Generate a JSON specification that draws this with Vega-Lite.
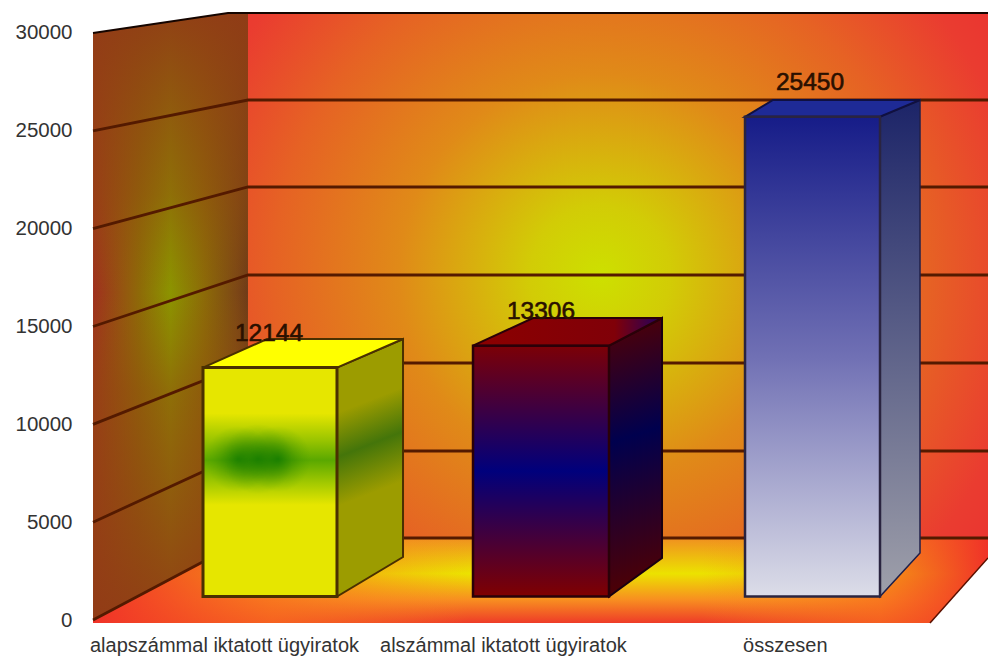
{
"$schema":"https://vega.github.io/schema/vega-lite/v6.json",
"width":988,"height":658,"padding":0,"autosize":{"type":"none"},"background":"white",
"config":{"view":{"stroke":null},"font":"Liberation Sans"},
"datasets":{
"bars":[
{"label":"alapszámmal iktatott ügyiratok","value":12144,"x":0.9963,"x0":0.7528,"x1":1.2472,"base":0},
{"label":"alszámmal iktatott ügyiratok","value":13306,"x":2.0,"x0":1.7491,"x1":2.2509,"base":0},
{"label":"összesen","value":25450,"x":2.9926,"x0":2.7528,"x1":3.2509,"base":0}],
"faces":[
{"bar":1,"face":"top","x":0.7528,"y":12144,"y2":12144},
{"bar":1,"face":"top","x":0.9889,"y":13660,"y2":12144},
{"bar":1,"face":"top","x":1.2472,"y":13660,"y2":12144},
{"bar":1,"face":"top","x":1.4908,"y":13660,"y2":13660},
{"bar":1,"face":"side","x":1.2472,"y":12144,"y2":0},
{"bar":1,"face":"side","x":1.4908,"y":13660,"y2":2095},
{"bar":2,"face":"top","x":1.7491,"y":13306,"y2":13306},
{"bar":2,"face":"top","x":1.9705,"y":14775,"y2":13306},
{"bar":2,"face":"top","x":2.2509,"y":14775,"y2":13306},
{"bar":2,"face":"top","x":2.4465,"y":14775,"y2":14775},
{"bar":2,"face":"side","x":2.2509,"y":13306,"y2":0},
{"bar":2,"face":"side","x":2.4465,"y":14775,"y2":2042},
{"bar":3,"face":"top","x":2.7528,"y":25450,"y2":25450},
{"bar":3,"face":"top","x":2.8561,"y":26340,"y2":25450},
{"bar":3,"face":"top","x":3.2509,"y":26340,"y2":25450},
{"bar":3,"face":"top","x":3.3985,"y":26340,"y2":26340},
{"bar":3,"face":"side","x":3.2509,"y":25450,"y2":0},
{"bar":3,"face":"side","x":3.3985,"y":26340,"y2":2308}],
"wall":[{"x":0.3469,"y":30000,"y2":0},{"x":0.8450,"y":31021,"y2":3650},{"x":0.9188,"y":31021,"y2":4191}],
"floor":[{"x":0.3469,"y":0,"y2":-153},{"x":0.9188,"y":4191,"y2":-153},{"x":3.4354,"y":4191,"y2":-153},{"x":3.6494,"y":4191,"y2":3169}]
},
"encoding":{
"x":{"field":"x","type":"quantitative","scale":{"domain":[0.0037,3.6494],"nice":false,"zero":false},"axis":null},
"y":{"field":"y","type":"quantitative","scale":{"domain":[-1942,31686],"nice":false,"zero":false},"axis":null}
},
"resolve":{"scale":{"y":"independent"}},
"layer":[
{"data":{"values":[{"x":0.9188,"x2":3.6494,"y":31021,"y2":4191}]},
"mark":{"type":"rect","color":{"gradient":"radial","x1":0.476,"y1":0.5,"r1":0,"x2":0.476,"y2":0.5,"r2":0.68,"stops":[{"offset":0,"color":"#cde000"},{"offset":0.14,"color":"#d2cc06"},{"offset":0.4,"color":"#e08a18"},{"offset":0.65,"color":"#e66224"},{"offset":0.85,"color":"#ea3c30"},{"offset":1,"color":"#ea3030"}]}},
"encoding":{
"y":{"field":"y","type":"quantitative","scale":{"domain":[-1942,31686],"nice":false,"zero":false},"axis":{"values":[0,5000,10000,15000,20000,25000,30000],"format":"d","title":null,"domain":false,"ticks":false,"tickSize":0,"grid":false,"labelPadding":-72,"labelAlign":"right","labelFontSize":20.5,"labelColor":"#333333","labelOverlap":false,"labelBound":false,"labelFlush":false}},
"x2":{"field":"x2"},"y2":{"field":"y2"}}},
{"data":{"name":"wall"},
"mark":{"type":"area","color":{"gradient":"linear","x1":0,"y1":0,"x2":1,"y2":0,"stops":[{"offset":0,"color":"#a0301e"},{"offset":0.3,"color":"#8e6a08"},{"offset":0.5,"color":"#8c9400"},{"offset":0.72,"color":"#8c6a08"},{"offset":0.93,"color":"#7c4616"},{"offset":1,"color":"#6e3a18"}]}},
"encoding":{"y2":{"field":"y2"}}},
{"data":{"name":"wall"},
"mark":{"type":"area","color":{"gradient":"linear","x1":0,"y1":0,"x2":0,"y2":1,"stops":[{"offset":0,"color":"rgba(145,60,22,0.95)"},{"offset":0.3,"color":"rgba(145,75,15,0.5)"},{"offset":0.46,"color":"rgba(145,90,10,0)"},{"offset":0.62,"color":"rgba(145,75,15,0.5)"},{"offset":1,"color":"rgba(145,60,22,0.95)"}]}},
"encoding":{"y2":{"field":"y2"}}},
{"data":{"name":"floor"},
"mark":{"type":"area","color":{"gradient":"linear","x1":0,"y1":0,"x2":0,"y2":1,"stops":[{"offset":0,"color":"#f09020"},{"offset":0.42,"color":"#ece200"},{"offset":0.72,"color":"#f89020"},{"offset":1,"color":"#ee3c28"}]}},
"encoding":{"y2":{"field":"y2"}}},
{"data":{"name":"floor"},
"mark":{"type":"area","color":{"gradient":"linear","x1":0,"y1":0,"x2":1,"y2":0,"stops":[{"offset":0,"color":"rgba(240,50,40,1)"},{"offset":0.2,"color":"rgba(248,110,30,0.75)"},{"offset":0.42,"color":"rgba(248,140,30,0)"},{"offset":0.68,"color":"rgba(248,140,30,0)"},{"offset":0.88,"color":"rgba(248,110,30,0.7)"},{"offset":1,"color":"rgba(240,50,40,1)"}]}},
"encoding":{"y2":{"field":"y2"}}},
{"data":{"values":[
{"tick":0,"x":0.3469,"y":0},{"tick":0,"x":0.9188,"y":4191},{"tick":0,"x":3.6494,"y":4191},
{"tick":5000,"x":0.3469,"y":5000},{"tick":5000,"x":0.9188,"y":8637},{"tick":5000,"x":3.6494,"y":8637},
{"tick":10000,"x":0.3469,"y":10000},{"tick":10000,"x":0.9188,"y":13134},{"tick":10000,"x":3.6494,"y":13134},
{"tick":15000,"x":0.3469,"y":15000},{"tick":15000,"x":0.9188,"y":17632},{"tick":15000,"x":3.6494,"y":17632},
{"tick":20000,"x":0.3469,"y":20000},{"tick":20000,"x":0.9188,"y":22129},{"tick":20000,"x":3.6494,"y":22129},
{"tick":25000,"x":0.3469,"y":25000},{"tick":25000,"x":0.9188,"y":26575},{"tick":25000,"x":3.6494,"y":26575}]},
"mark":{"type":"line","color":"#541a00","strokeWidth":2.8},
"encoding":{"detail":{"field":"tick"}}},
{"data":{"values":[{"x":0.3469,"y":30000},{"x":0.8450,"y":31021},{"x":3.6494,"y":31021}]},
"mark":{"type":"line","color":"#150500","strokeWidth":2}},
{"data":{"values":[{"x":3.4354,"y":-153},{"x":3.6494,"y":3169}]},
"mark":{"type":"line","color":"#5a1000","strokeWidth":1.5}},

{"data":{"name":"faces"},"transform":[{"filter":"datum.bar==1 && datum.face=='side'"}],
"mark":{"type":"area","line":false,"strokeWidth":2,"color":{"gradient":"linear","x1":0.45,"y1":0,"x2":0.55,"y2":1,"stops":[{"offset":0,"color":"#9c9c00"},{"offset":0.24,"color":"#9c9c00"},{"offset":0.41,"color":"#44750a"},{"offset":0.6,"color":"#9c9c00"},{"offset":1,"color":"#9c9c00"}]},"stroke":"#4a3000"},
"encoding":{"y":{"field":"y","type":"quantitative","scale":{"domain":[-3263,31645],"nice":false,"zero":false},"axis":null},"y2":{"field":"y2"}}},
{"data":{"name":"faces"},"transform":[{"filter":"datum.bar==1 && datum.face=='top'"}],
"mark":{"type":"area","color":"#ffff00","stroke":"#4a3000","strokeWidth":2},
"encoding":{"y":{"field":"y","type":"quantitative","scale":{"domain":[-3263,31645],"nice":false,"zero":false},"axis":null},"y2":{"field":"y2"}}},
{"data":{"name":"bars"},"transform":[{"filter":"datum.value==12144"}],
"mark":{"type":"rect","stroke":"#4a3000","strokeWidth":3,"color":{"gradient":"linear","x1":0,"y1":0,"x2":0,"y2":1,"stops":[{"offset":0,"color":"#e6e600"},{"offset":0.2,"color":"#e6e600"},{"offset":0.32,"color":"#98c400"},{"offset":0.405,"color":"#5aa800"},{"offset":0.5,"color":"#a0c800"},{"offset":0.6,"color":"#e6e600"},{"offset":1,"color":"#e6e600"}]}},
"encoding":{"x":{"field":"x0","type":"quantitative","scale":{"domain":[0.0037,3.6494],"nice":false,"zero":false},"axis":null},"x2":{"field":"x1"},"y":{"field":"value","type":"quantitative","scale":{"domain":[-3263,31645],"nice":false,"zero":false},"axis":null},"y2":{"field":"base"}}},
{"data":{"values":[{"x":0.7601,"x2":1.0037,"y":9045,"y2":5544},{"x":0.8266,"x2":1.0849,"y":9151,"y2":5438},{"x":0.9077,"x2":1.1513,"y":9045,"y2":5544}]},
"mark":{"type":"rect","color":{"gradient":"radial","x1":0.5,"y1":0.5,"r1":0,"x2":0.5,"y2":0.5,"r2":0.5,"stops":[{"offset":0,"color":"rgba(0,112,0,0.65)"},{"offset":0.5,"color":"rgba(20,120,0,0.3)"},{"offset":1,"color":"rgba(60,150,0,0)"}]}},
"encoding":{"y":{"field":"y","type":"quantitative","scale":{"domain":[-3263,31645],"nice":false,"zero":false},"axis":null},"x2":{"field":"x2"},"y2":{"field":"y2"}}},

{"data":{"name":"faces"},"transform":[{"filter":"datum.bar==2 && datum.face=='side'"}],
"mark":{"type":"area","stroke":"#1a0010","strokeWidth":2,"color":{"gradient":"linear","x1":0.47,"y1":0,"x2":0.53,"y2":1,"stops":[{"offset":0,"color":"#4e0006"},{"offset":0.42,"color":"#00004e"},{"offset":1,"color":"#520000"}]}},
"encoding":{"y":{"field":"y","type":"quantitative","scale":{"domain":[-3263,31645],"nice":false,"zero":false},"axis":null},"y2":{"field":"y2"}}},
{"data":{"name":"faces"},"transform":[{"filter":"datum.bar==2 && datum.face=='top'"}],
"mark":{"type":"area","stroke":"#2a0008","strokeWidth":2,"color":{"gradient":"linear","x1":0,"y1":0,"x2":1,"y2":0,"stops":[{"offset":0,"color":"#8c0000"},{"offset":0.75,"color":"#800008"},{"offset":1,"color":"#200060"}]}},
"encoding":{"y":{"field":"y","type":"quantitative","scale":{"domain":[-3263,31645],"nice":false,"zero":false},"axis":null},"y2":{"field":"y2"}}},
{"data":{"name":"bars"},"transform":[{"filter":"datum.value==13306"}],
"mark":{"type":"rect","stroke":"#2a0008","strokeWidth":2.5,"color":{"gradient":"linear","x1":0,"y1":0,"x2":0,"y2":1,"stops":[{"offset":0,"color":"#7c0006"},{"offset":0.5,"color":"#00007c"},{"offset":1,"color":"#800000"}]}},
"encoding":{"x":{"field":"x0","type":"quantitative","scale":{"domain":[0.0037,3.6494],"nice":false,"zero":false},"axis":null},"x2":{"field":"x1"},"y":{"field":"value","type":"quantitative","scale":{"domain":[-3263,31645],"nice":false,"zero":false},"axis":null},"y2":{"field":"base"}}},

{"data":{"name":"faces"},"transform":[{"filter":"datum.bar==3 && datum.face=='side'"}],
"mark":{"type":"area","stroke":"#20204a","strokeWidth":1.5,"color":{"gradient":"linear","x1":0,"y1":0,"x2":0,"y2":1,"stops":[{"offset":0,"color":"#1c2468"},{"offset":1,"color":"#9fa0aa"}]}},
"encoding":{"y":{"field":"y","type":"quantitative","scale":{"domain":[-3263,31645],"nice":false,"zero":false},"axis":null},"y2":{"field":"y2"}}},
{"data":{"name":"faces"},"transform":[{"filter":"datum.bar==3 && datum.face=='top'"}],
"mark":{"type":"area","stroke":"#101040","strokeWidth":2,"color":"#1e2a96"},
"encoding":{"y":{"field":"y","type":"quantitative","scale":{"domain":[-3263,31645],"nice":false,"zero":false},"axis":null},"y2":{"field":"y2"}}},
{"data":{"name":"bars"},"transform":[{"filter":"datum.value==25450"}],
"mark":{"type":"rect","stroke":"#2a2440","strokeWidth":2.5,"color":{"gradient":"linear","x1":0,"y1":0,"x2":0,"y2":1,"stops":[{"offset":0,"color":"#161c88"},{"offset":0.5,"color":"#7070b4"},{"offset":1,"color":"#dcdde8"}]}},
"encoding":{"x":{"field":"x0","type":"quantitative","scale":{"domain":[0.0037,3.6494],"nice":false,"zero":false},"axis":null},"x2":{"field":"x1"},"y":{"field":"value","type":"quantitative","scale":{"domain":[-3263,31645],"nice":false,"zero":false},"axis":null},"y2":{"field":"base"}}},

{"data":{"name":"bars"},
"mark":{"type":"text","fontSize":24.5,"color":"#2a1000","stroke":"#2a1000","strokeWidth":0.6,"dy":-34,"baseline":"middle","align":"center"},
"encoding":{"y":{"field":"value","type":"quantitative","scale":{"domain":[-3263,31645],"nice":false,"zero":false},"axis":null},"text":{"field":"value","type":"nominal"}}},
{"data":{"values":[{"label":"alapszámmal iktatott ügyiratok","x":0.3358,"y":-1329},{"label":"alszámmal iktatott ügyiratok","x":1.4059,"y":-1329},{"label":"összesen","x":2.7454,"y":-1329}]},
"mark":{"type":"text","fontSize":20,"color":"#333333","align":"left","baseline":"middle"},
"encoding":{"text":{"field":"label","type":"nominal"}}}
]
}
